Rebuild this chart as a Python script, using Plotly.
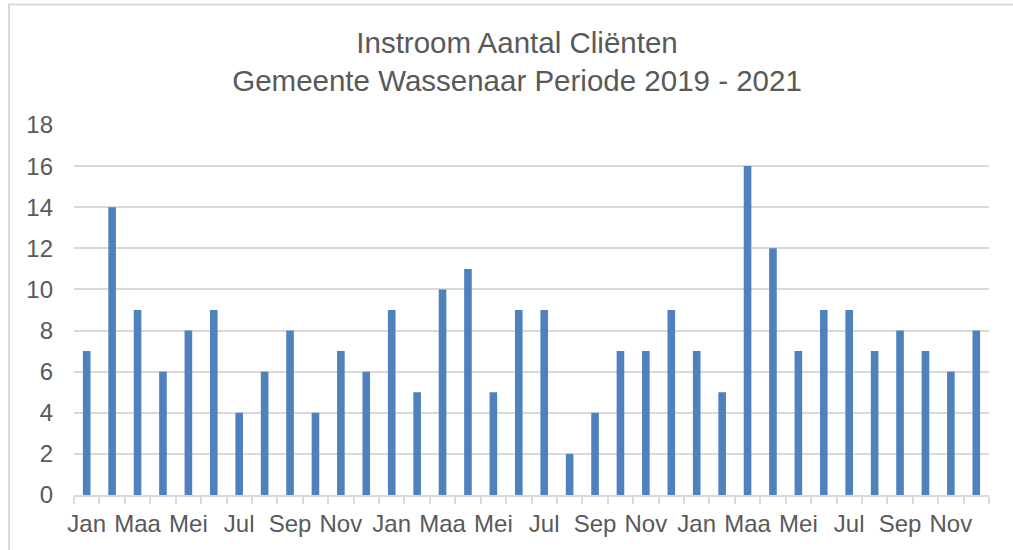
import plotly.graph_objects as go

months = ["Jan", "Feb", "Maa", "Apr", "Mei", "Jun", "Jul", "Aug", "Sep", "Okt", "Nov", "Dec"]
years = [2019, 2020, 2021]
values_2019 = [7, 14, 9, 6, 8, 9, 4, 6, 8, 4, 7, 6]
values_2020 = [9, 5, 10, 11, 5, 9, 9, 2, 4, 7, 7, 9]
values_2021 = [7, 5, 16, 12, 7, 9, 9, 7, 8, 7, 6, 8]

values = values_2019 + values_2020 + values_2021
labels = [m for _ in years for m in months]
x = list(range(len(values)))
tick_idx = [i for i in x if i % 2 == 0]
tick_text = [labels[i] for i in tick_idx]

TEXT = "#595959"
GRID = "#D9D9D9"
FONT = "Liberation Sans, Arial, sans-serif"

W, H = 1013, 550
ML, MR, MT, MB = 74, 24, 125, 55
PW, PH = W - ML - MR, H - MT - MB

fig = go.Figure(go.Bar(x=x, y=values, marker=dict(color="#4F81BD", line=dict(width=0)),
                       hoverinfo="y"))

fig.update_layout(
    width=W, height=H,
    margin=dict(l=ML, r=MR, t=MT, b=MB),
    paper_bgcolor="white", plot_bgcolor="white",
    bargap=0.7,
    showlegend=False,
    font=dict(family=FONT, color=TEXT),
    title=dict(text="Instroom Aantal Cliënten<br>Gemeente Wassenaar Periode 2019 - 2021",
               x=517 / W, xanchor="center", xref="container",
               y=1 - 53 / H, yanchor="top", yref="container",
               font=dict(size=29.5, color=TEXT, family=FONT)),
)

fig.update_xaxes(
    range=[-0.5, len(values) - 0.5],
    tickmode="array", tickvals=tick_idx, ticktext=tick_text,
    ticks="", showgrid=False, zeroline=False,
    showline=True, linecolor=GRID, linewidth=2,
    tickfont=dict(size=24, color=TEXT),
    ticklabelstandoff=6,
    minor=dict(tick0=-0.5, dtick=1, ticks="outside", ticklen=7, tickcolor=GRID, tickwidth=2, showgrid=False),
)
fig.update_yaxes(
    range=[0, 18], dtick=2, tick0=0,
    showgrid=True, gridcolor=GRID, gridwidth=2,
    zeroline=False, showline=False, ticks="",
    tickfont=dict(size=24, color=TEXT),
    ticklabelstandoff=20,
)

# chart border (partially outside the visible area)
fig.add_shape(type="rect", xref="paper", yref="paper",
              x0=(9 - ML) / PW, x1=(W + 20 - ML) / PW,
              y0=(H - MB - (H + 20)) / PH, y1=(H - MB - 4.5) / PH,
              line=dict(color=GRID, width=2), layer="below")

fig.write_html("out.html", config={"displayModeBar": False},
               post_script="document.body.style.margin='0';document.body.style.padding='0';")
